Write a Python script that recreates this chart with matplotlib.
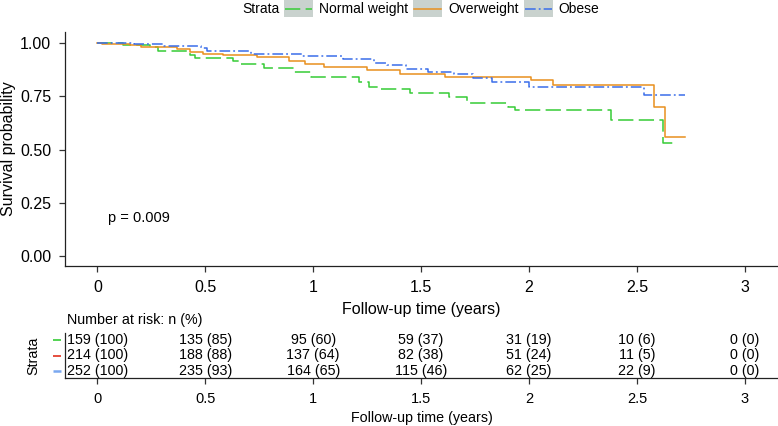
import numpy as np
import matplotlib
matplotlib.use("Agg")
import matplotlib.pyplot as plt
from matplotlib.lines import Line2D
from matplotlib.patches import Rectangle

plt.rcParams['font.family'] = ['Liberation Sans', 'DejaVu Sans']

# Kaplan-Meier step data (time in years, survival)
normal_t = [0, 0.12, 0.245, 0.28, 0.43, 0.45, 0.63, 0.66, 0.77, 0.91, 0.99, 1.21, 1.26, 1.31,
            1.45, 1.63, 1.71, 1.90, 1.935, 2.38, 2.62, 2.685]
normal_s = [1.0, 0.99, 0.983, 0.964, 0.944, 0.928, 0.917, 0.901, 0.881, 0.865, 0.842, 0.818, 0.792, 0.785,
            0.767, 0.748, 0.72, 0.701, 0.685, 0.638, 0.529, 0.529]

over_t = [0, 0.02, 0.15, 0.2, 0.37, 0.43, 0.49, 0.58, 0.74, 0.89, 0.96, 1.05, 1.25, 1.40,
          1.61, 2.01, 2.11, 2.58, 2.63, 2.72]
over_s = [1.0, 0.995, 0.99, 0.983, 0.972, 0.959, 0.951, 0.944, 0.933, 0.917, 0.90, 0.889, 0.873, 0.854,
          0.842, 0.826, 0.803, 0.701, 0.56, 0.56]

obese_t = [0, 0.17, 0.31, 0.48, 0.51, 0.71, 0.95, 1.14, 1.28, 1.34, 1.43, 1.53, 1.65, 1.74,
           1.83, 2.0, 2.53, 2.72]
obese_s = [1.0, 0.995, 0.986, 0.975, 0.964, 0.951, 0.94, 0.925, 0.905, 0.897, 0.877, 0.865, 0.854, 0.834,
           0.818, 0.795, 0.756, 0.756]

strata = ['Normal weight', 'Overweight', 'Obese']
colors = ['#36CC36', '#E8901E', '#3A6EEA']
table_colors = ['#36CC36', '#E0301E', '#7AA8F0']

risk_times = [0, 0.5, 1, 1.5, 2, 2.5, 3]
risk_n = [[159, 135, 95, 59, 31, 10, 0],
          [214, 188, 137, 82, 51, 11, 0],
          [252, 235, 164, 115, 62, 22, 0]]
risk_pct = [[100, 85, 60, 37, 19, 6, 0],
            [100, 88, 64, 38, 24, 5, 0],
            [100, 93, 65, 46, 25, 9, 0]]

xticks = [0, 0.5, 1, 1.5, 2, 2.5, 3]
xticklabels = ['0', '0.5', '1', '1.5', '2', '2.5', '3']
yticks = [0, 0.25, 0.5, 0.75, 1.0]
yticklabels = ['0.00', '0.25', '0.50', '0.75', '1.00']

W, H = 778, 426
fig = plt.figure(figsize=(W / 100, H / 100), dpi=100)
ax = fig.add_axes([65 / W, 1 - 266 / H, 1 - 65 / W, 234 / H])

styles = [dict(dashes=(10, 3.5)), dict(linestyle='-'), dict(dashes=(7, 2, 1.2, 2))]
for (t, s), c, st in zip([(normal_t, normal_s), (over_t, over_s), (obese_t, obese_s)], colors, styles):
    ax.step(t, s, where='post', color=c, lw=1.1, **st)

ax.set_xlim(-0.15, 3.153)
ax.set_ylim(-0.047, 1.052)
ax.set_xticks(xticks)
ax.set_xticklabels(xticklabels)
ax.set_yticks(yticks)
ax.set_yticklabels(yticklabels)
for sp in ['top', 'right']:
    ax.spines[sp].set_visible(False)
for sp in ['left', 'bottom']:
    ax.spines[sp].set_linewidth(0.9)
    ax.spines[sp].set_color('#222222')
ax.tick_params(direction='out', length=4, width=0.9, color='#333333', labelsize=11.5, pad=6)
ax.set_ylabel('Survival probability', fontsize=11.5)
ax.yaxis.set_label_coords(-0.069, 0.5)
ax.set_xlabel('Follow-up time (years)', fontsize=11.5)
ax.xaxis.set_label_coords(0.5, -0.152)
ax.text(0.05, 0.178, 'p = 0.009', fontsize=10.5, va='center', ha='left')

# legend drawn by hand: "Strata" title inline with grey key boxes
ly = 1 - 9 / H
fig.text(242 / W, ly, 'Strata', fontsize=10, va='center', ha='left')
key_x = [284, 413, 524]
lab_x = [319, 448, 558]
for kx, lx, c, st, name in zip(key_x, lab_x, colors, styles, strata):
    fig.add_artist(Rectangle((kx / W, 1 - 17 / H), 29 / W, 17 / H, transform=fig.transFigure,
                             facecolor='#C9D2CE', edgecolor='none'))
    fig.add_artist(Line2D([(kx + 1) / W, (kx + 28) / W], [ly, ly], transform=fig.transFigure,
                          color=c, lw=1.1, **st))
    fig.text(lx / W, ly, name, fontsize=10, va='center', ha='left')

# risk table
tx = fig.add_axes([65 / W, 1 - 378 / H, 1 - 65 / W, 45 / H])
tx.set_xlim(-0.15, 3.153)
tx.set_ylim(0.53, 3.47)
for i in range(3):
    y = 3 - i
    for t, n, p in zip(risk_times, risk_n[i], risk_pct[i]):
        tx.text(t, y, f'{n} ({p})', ha='center', va='center', fontsize=10.3)
    tx.plot([-0.205, -0.17], [y, y], color=table_colors[i], lw=1.2 if i < 2 else 1.8,
            clip_on=False, solid_capstyle='butt')
tx.set_yticks([])
tx.set_xticks(xticks)
tx.set_xticklabels(xticklabels)
tx.tick_params(axis='x', direction='out', length=4, width=0.9, color='#333333', labelsize=10.5, pad=6)
for sp in ['top', 'right']:
    tx.spines[sp].set_visible(False)
for sp in ['left', 'bottom']:
    tx.spines[sp].set_linewidth(0.9)
    tx.spines[sp].set_color('#222222')
tx.set_ylabel('Strata', fontsize=10.3)
tx.yaxis.set_label_coords(-0.034, 0.5)
tx.set_xlabel('Follow-up time (years)', fontsize=10.3)
tx.xaxis.set_label_coords(0.5, -0.74)
fig.text(67 / W, 1 - 320 / H, 'Number at risk: n (%)', fontsize=10.3, va='center', ha='left')

fig.savefig('out.png', dpi=100)
